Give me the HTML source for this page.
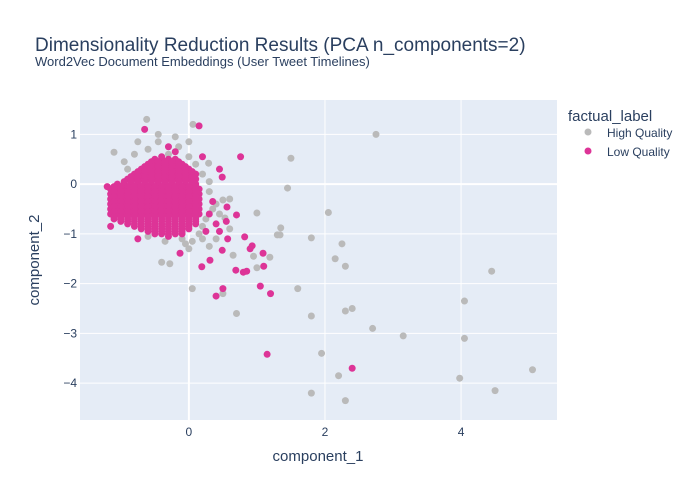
<!DOCTYPE html>
<html><head><meta charset="utf-8"><style>
body{margin:0;background:#fff}
svg{display:block;font-family:"Liberation Sans",Arial,sans-serif}
</style></head><body>
<svg id="chart" width="700" height="500">
<rect width="700" height="500" fill="#fff"/>
<rect x="80" y="100" width="477" height="320" fill="#e5ecf6"/>
<g id="grid"></g>
<g id="marks"></g>
<g id="ticks"></g>
<text x="35" y="51" font-size="19" fill="#2a3f5f">Dimensionality Reduction Results (PCA n_components=2)</text>
<text x="35" y="66" font-size="13" fill="#2a3f5f">Word2Vec Document Embeddings (User Tweet Timelines)</text>
<text x="318" y="461" font-size="15" fill="#2a3f5f" text-anchor="middle">component_1</text>
<text transform="translate(39,260) rotate(-90)" font-size="15" fill="#2a3f5f" text-anchor="middle">component_2</text>
<text x="568" y="121" font-size="15" fill="#2a3f5f">factual_label</text>
<g><circle cx="588" cy="132" r="3.5" fill="#bababa"/><text x="607" y="137" font-size="12" fill="#2a3f5f">High Quality</text></g>
<g><circle cx="588" cy="151" r="3.5" fill="#dd3497"/><text x="607" y="156" font-size="12" fill="#2a3f5f">Low Quality</text></g>
</svg>
<script>
const xTicks=[0,2,4];
const yTicks=[1,0,-1,-2,-3,-4];
const xTickLabels=["0","2","4"];
const yTickLabels=["1","0","−1","−2","−3","−4"];
const highX=[-0.62,2.75,1.5,1.45,1.0,1.35,1.3,1.8,2.05,2.25,2.15,2.3,1.6,1.8,2.3,2.4,1.95,2.7,3.15,2.2,1.8,2.3,4.45,4.05,4.05,3.98,4.5,5.05,0.7,0.5,0.05,0.06,-1.1,1.19,0.65,-0.4,-0.28,0.95,1.0,0.53,0.5,0.29,1.34,
-0.8,-0.6,-0.45,-0.3,-0.15,0,0.1,-0.2,-0.55,-0.9,0.2,0.3,0.3,0.35,0.25,0.2,0.15,0.05,-0.1,-0.35,-0.6,0.45,0.4,0.6,0.3,0,-0.45,-0.75,0,-0.95,0.6,0.2,0.4,0.1,-0.05];
const highY=[1.3,1.0,0.52,-0.08,-0.58,-0.88,-1.02,-1.08,-0.57,-1.2,-1.5,-1.65,-2.1,-2.65,-2.55,-2.5,-3.4,-2.9,-3.05,-3.85,-4.2,-4.35,-1.75,-2.35,-3.1,-3.9,-4.15,-3.73,-2.6,-2.2,-2.1,1.2,0.64,-1.47,-1.43,-1.57,-1.6,-1.45,-1.68,-0.68,-0.32,0.42,-1.02,
0.6,0.7,0.85,0.6,0.75,0.55,0.4,0.95,0.45,0.3,0.2,0.05,-0.15,-0.5,-0.7,-0.85,-1.0,-1.15,-1.1,-1.15,-1.05,-0.6,-1.1,-0.9,-1.25,-1.3,1.0,0.85,0.85,0.45,-0.3,-1.1,-0.4,-0.6,-1.2];
const lowX=[-0.65,0.15,0.76,1.15,2.4,1.2,1.05,0.4,0.5,0.85,0.9,0.82,0.93,1.09,1.1,0.69,0.8,0.49,0.31,0.19,-0.13,0.57,0.7,0.56,0.49,
-0.5,-0.4,-0.3,-0.2,
-0.6,-0.5,-0.4,-0.3,-0.2,-0.1,
-0.7,-0.6,-0.5,-0.4,-0.3,-0.2,-0.1,0,
-0.8,-0.7,-0.6,-0.5,-0.4,-0.3,-0.2,-0.1,0,0.1,
-0.9,-0.8,-0.7,-0.6,-0.5,-0.4,-0.3,-0.2,-0.1,0,0.1,
-1.05,-0.95,-0.85,-0.75,-0.65,-0.55,-0.45,-0.35,-0.25,-0.15,-0.05,0.05,0.1,
-1.15,-1.05,-0.95,-0.85,-0.75,-0.65,-0.55,-0.45,-0.35,-0.25,-0.15,-0.05,0.05,0.15,
-1.15,-1.05,-0.95,-0.85,-0.75,-0.65,-0.55,-0.45,-0.35,-0.25,-0.15,-0.05,0.05,0.15,
-1.15,-1.05,-0.95,-0.85,-0.75,-0.65,-0.55,-0.45,-0.35,-0.25,-0.15,-0.05,0.05,0.15,
-1.15,-1.05,-0.95,-0.85,-0.75,-0.65,-0.55,-0.45,-0.35,-0.25,-0.15,-0.05,0.05,0.15,
-1.15,-1.05,-0.95,-0.85,-0.75,-0.65,-0.55,-0.45,-0.35,-0.25,-0.15,-0.05,0.05,0.15,
-1.15,-1.05,-0.95,-0.85,-0.75,-0.65,-0.55,-0.45,-0.35,-0.25,-0.15,-0.05,0.05,0.15,
-1.1,-1.0,-0.9,-0.8,-0.7,-0.6,-0.5,-0.4,-0.3,-0.2,-0.1,0,0.1,
-0.9,-0.8,-0.7,-0.6,-0.5,-0.4,-0.3,-0.2,-0.1,0,0.1,
-0.7,-0.6,-0.5,-0.4,-0.3,-0.2,-0.1,0,
-0.5,-0.4,-0.3,-0.2,-0.1,
-1.2,-1.15,-0.75,-0.3,0.35,0.3,0.4,0.25,0.45,0.55,0.2,-0.2,-0.3,-0.4,0.45];
const lowY=[1.1,1.17,0.55,-3.42,-3.7,-2.2,-2.05,-2.25,-2.1,-1.75,-1.3,-1.06,-1.24,-1.39,-1.65,-1.73,-1.77,-1.33,-1.53,-1.66,-1.39,-1.1,-0.62,-0.46,0.14,
0.5,0.5,0.5,0.5,
0.4,0.4,0.4,0.4,0.4,0.4,
0.3,0.3,0.3,0.3,0.3,0.3,0.3,0.3,
0.2,0.2,0.2,0.2,0.2,0.2,0.2,0.2,0.2,0.2,
0.1,0.1,0.1,0.1,0.1,0.1,0.1,0.1,0.1,0.1,0.1,
0,0,0,0,0,0,0,0,0,0,0,0,0,
-0.1,-0.1,-0.1,-0.1,-0.1,-0.1,-0.1,-0.1,-0.1,-0.1,-0.1,-0.1,-0.1,-0.1,
-0.2,-0.2,-0.2,-0.2,-0.2,-0.2,-0.2,-0.2,-0.2,-0.2,-0.2,-0.2,-0.2,-0.2,
-0.3,-0.3,-0.3,-0.3,-0.3,-0.3,-0.3,-0.3,-0.3,-0.3,-0.3,-0.3,-0.3,-0.3,
-0.4,-0.4,-0.4,-0.4,-0.4,-0.4,-0.4,-0.4,-0.4,-0.4,-0.4,-0.4,-0.4,-0.4,
-0.5,-0.5,-0.5,-0.5,-0.5,-0.5,-0.5,-0.5,-0.5,-0.5,-0.5,-0.5,-0.5,-0.5,
-0.6,-0.6,-0.6,-0.6,-0.6,-0.6,-0.6,-0.6,-0.6,-0.6,-0.6,-0.6,-0.6,-0.6,
-0.7,-0.7,-0.7,-0.7,-0.7,-0.7,-0.7,-0.7,-0.7,-0.7,-0.7,-0.7,-0.7,
-0.8,-0.8,-0.8,-0.8,-0.8,-0.8,-0.8,-0.8,-0.8,-0.8,-0.8,
-0.9,-0.9,-0.9,-0.9,-0.9,-0.9,-0.9,-0.9,
-1.0,-1.0,-1.0,-1.0,-1.0,
-0.05,-0.85,-1.1,-1.05,-0.35,-0.6,-0.8,-0.95,-0.95,-0.75,0.55,0.65,0.75,0.55,0.3];
const lowFillX=[
-0.55,-0.45,-0.35,-0.25,-0.15,
-0.65,-0.55,-0.45,-0.35,-0.25,-0.15,-0.05,
-0.75,-0.65,-0.55,-0.45,-0.35,-0.25,-0.15,-0.05,0.05,
-0.85,-0.75,-0.65,-0.55,-0.45,-0.35,-0.25,-0.15,-0.05,0.05,
-0.95,-0.85,-0.75,-0.65,-0.55,-0.45,-0.35,-0.25,-0.15,-0.05,0.05,
-1.1,-1.0,-0.9,-0.8,-0.7,-0.6,-0.5,-0.4,-0.3,-0.2,-0.1,0,0.1,
-1.1,-1.0,-0.9,-0.8,-0.7,-0.6,-0.5,-0.4,-0.3,-0.2,-0.1,0,0.1,
-1.1,-1.0,-0.9,-0.8,-0.7,-0.6,-0.5,-0.4,-0.3,-0.2,-0.1,0,0.1,
-1.1,-1.0,-0.9,-0.8,-0.7,-0.6,-0.5,-0.4,-0.3,-0.2,-0.1,0,0.1,
-1.1,-1.0,-0.9,-0.8,-0.7,-0.6,-0.5,-0.4,-0.3,-0.2,-0.1,0,0.1,
-1.1,-1.0,-0.9,-0.8,-0.7,-0.6,-0.5,-0.4,-0.3,-0.2,-0.1,0,0.1,
-1.1,-1.0,-0.9,-0.8,-0.7,-0.6,-0.5,-0.4,-0.3,-0.2,-0.1,0,0.1,
-1.0,-0.9,-0.8,-0.7,-0.6,-0.5,-0.4,-0.3,-0.2,-0.1,0,0.1,
-0.8,-0.7,-0.6,-0.5,-0.4,-0.3,-0.2,-0.1,0,
-0.6,-0.5,-0.4,-0.3,-0.2,-0.1];
const lowFillY=[
0.45,0.45,0.45,0.45,0.45,
0.35,0.35,0.35,0.35,0.35,0.35,0.35,
0.25,0.25,0.25,0.25,0.25,0.25,0.25,0.25,0.25,
0.15,0.15,0.15,0.15,0.15,0.15,0.15,0.15,0.15,0.15,
0.05,0.05,0.05,0.05,0.05,0.05,0.05,0.05,0.05,0.05,0.05,
-0.05,-0.05,-0.05,-0.05,-0.05,-0.05,-0.05,-0.05,-0.05,-0.05,-0.05,-0.05,-0.05,
-0.15,-0.15,-0.15,-0.15,-0.15,-0.15,-0.15,-0.15,-0.15,-0.15,-0.15,-0.15,-0.15,
-0.25,-0.25,-0.25,-0.25,-0.25,-0.25,-0.25,-0.25,-0.25,-0.25,-0.25,-0.25,-0.25,
-0.35,-0.35,-0.35,-0.35,-0.35,-0.35,-0.35,-0.35,-0.35,-0.35,-0.35,-0.35,-0.35,
-0.45,-0.45,-0.45,-0.45,-0.45,-0.45,-0.45,-0.45,-0.45,-0.45,-0.45,-0.45,-0.45,
-0.55,-0.55,-0.55,-0.55,-0.55,-0.55,-0.55,-0.55,-0.55,-0.55,-0.55,-0.55,-0.55,
-0.65,-0.65,-0.65,-0.65,-0.65,-0.65,-0.65,-0.65,-0.65,-0.65,-0.65,-0.65,-0.65,
-0.75,-0.75,-0.75,-0.75,-0.75,-0.75,-0.75,-0.75,-0.75,-0.75,-0.75,-0.75,
-0.85,-0.85,-0.85,-0.85,-0.85,-0.85,-0.85,-0.85,-0.85,
-0.95,-0.95,-0.95,-0.95,-0.95,-0.95];

const X0=80,X1=557,Y0=100,Y1=420,xMin=-1.6,xMax=5.41,yMin=-4.74,yMax=1.69;
const sx=v=>X0+(v-xMin)/(xMax-xMin)*(X1-X0);
const sy=v=>Y1-(v-yMin)/(yMax-yMin)*(Y1-Y0);
const NS="http://www.w3.org/2000/svg";
const grid=document.getElementById('grid'),ticks=document.getElementById('ticks'),marks=document.getElementById('marks');
function mk(tag,attrs,parent){const e=document.createElementNS(NS,tag);for(const k in attrs)e.setAttribute(k,attrs[k]);parent.appendChild(e);return e;}
xTicks.forEach((t,i)=>{
  const l=mk('line',{x1:sx(t),x2:sx(t),y1:Y0,y2:Y1,stroke:'#fff','stroke-width':t===0?2:1},grid);
  
  
  const tx=mk('text',{x:sx(t),y:Y1+16,'font-size':12,fill:'#2a3f5f','text-anchor':'middle'},ticks);
  tx.textContent=xTickLabels[i];
  
  
});
yTicks.forEach((t,i)=>{
  const l=mk('line',{x1:X0,x2:X1,y1:sy(t),y2:sy(t),stroke:'#fff','stroke-width':t===0?2:1},grid);
  
  
  const tx=mk('text',{x:X0-3,y:sy(t)+4,'font-size':12,fill:'#2a3f5f','text-anchor':'end'},ticks);
  tx.textContent=yTickLabels[i];
  
  
});
highX.forEach((v,i)=>{
  const c=mk('circle',{cx:sx(v),cy:sy(highY[i]),r:3.5,fill:'#bababa'},marks);
  
  
});
lowX.forEach((v,i)=>{
  const c=mk('circle',{cx:sx(v),cy:sy(lowY[i]),r:3.5,fill:'#dd3497'},marks);
  
  
});
lowFillX.forEach((v,i)=>{
  const c=mk('circle',{cx:sx(v),cy:sy(lowFillY[i]),r:3.5,fill:'#dd3497'},marks);
  
  
});
</script>
</body></html>
